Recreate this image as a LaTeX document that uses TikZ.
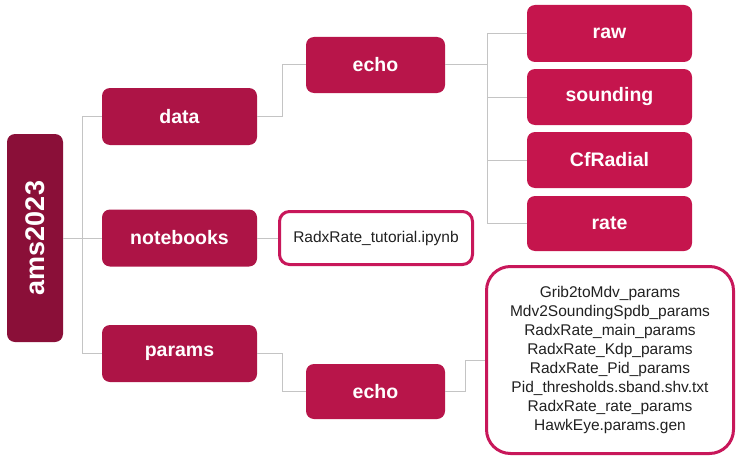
\documentclass[tikz,border=0pt]{standalone}
\usepackage{fontspec}
\setmainfont{Liberation Sans}
\definecolor{rootc}{HTML}{8A0F38}
\definecolor{lvlone}{HTML}{AD1446}
\definecolor{lvltwo}{HTML}{B8154A}
\definecolor{leafc}{HTML}{C5154D}
\definecolor{bordc}{HTML}{C8175A}
\definecolor{linec}{HTML}{C4C4C4}
\definecolor{txtc}{HTML}{212121}
\begin{document}
\begin{tikzpicture}[x=1pt,y=-1pt,
  box/.style={rounded corners=8pt, inner sep=0pt, text=white,
    font=\bfseries\fontsize{19.5}{22}\selectfont},
  filebox/.style={draw=bordc, line width=3pt, fill=white, rounded corners=14pt,
    inner sep=0pt, text=txtc, align=center, font=\fontsize{15.5}{19}\selectfont},
  conn/.style={draw=linec, line width=1pt}]
\useasboundingbox (0,0) rectangle (741,460);

\coordinate (t) at (82,238);
\coordinate (b1) at (487,65);

\node[box, fill=rootc, minimum width=208pt, minimum height=56pt, rotate=90,
  font=\bfseries\fontsize{27}{30}\selectfont] (ams) at (35,238) {ams2023};
\node[box, fill=lvlone, minimum width=155pt, minimum height=57pt] (data) at (179.5,116.5) {data};
\node[box, fill=lvlone, minimum width=155pt, minimum height=57pt] (notebooks) at (179.5,238) {notebooks};
\node[box, fill=lvlone, minimum width=155pt, minimum height=57pt] (params) at (179.5,353.5) {params};
\node[box, fill=lvltwo, minimum width=139pt, minimum height=56pt] (echoa) at (375.5,65) {echo};
\node[box, fill=lvltwo, minimum width=139pt, minimum height=55pt] (echob) at (375.5,391.5) {echo};
\node[box, fill=leafc, minimum width=165pt, minimum height=57pt] (raw) at (609.5,33.5) {raw};
\node[box, fill=leafc, minimum width=165pt, minimum height=56pt] (sounding) at (609.5,97) {sounding};
\node[box, fill=leafc, minimum width=165pt, minimum height=56pt] (cfradial) at (609.5,160) {CfRadial};
\node[box, fill=leafc, minimum width=165pt, minimum height=55pt] (rate) at (609.5,223.5) {rate};
\node[filebox, minimum width=193pt, minimum height=53pt, rounded corners=10pt] (tut) at (376,238) {RadxRate\_tutorial.ipynb};
\node[filebox, minimum width=247pt, minimum height=187pt, rounded corners=24pt] (list) at (610,360)
  {Grib2toMdv\_params\\Mdv2SoundingSpdb\_params\\RadxRate\_main\_params\\RadxRate\_Kdp\_params\\RadxRate\_Pid\_params\\Pid\_thresholds.sband.shv.txt\\RadxRate\_rate\_params\\HawkEye.params.gen};

\draw[conn] (ams.south) -- (t);
\draw[conn] (data.west) -- (data.west -| t) -- (params.west -| t) -- (params.west);
\draw[conn] (notebooks.west) -- (t);
\draw[conn] (data.east) -- ++(25,0) |- (echoa.west);
\draw[conn] (echoa.east) -- (b1);
\draw[conn] (raw.west) -| (b1);
\draw[conn] (rate.west) -| (b1);
\draw[conn] (sounding.west) -- (sounding.west -| b1);
\draw[conn] (cfradial.west) -- (cfradial.west -| b1);
\draw[conn] (notebooks.east) -- (tut.west);
\draw[conn] (params.east) -- ++(25,0) |- (echob.west);
\draw[conn] (echob.east) -- ++(20,0) |- (list.west);
\end{tikzpicture}
\end{document}
